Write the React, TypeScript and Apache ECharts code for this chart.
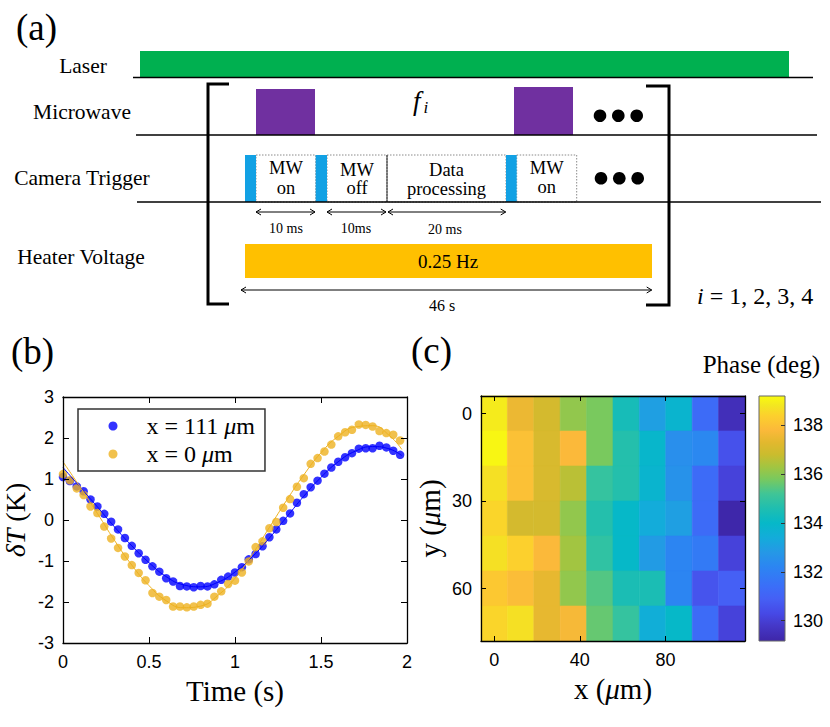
import React, { useEffect, useRef } from 'react';
import * as echarts from 'echarts';

// ---------- Panel (b) data ----------
const TIME_S = [0, 0.04, 0.08, 0.12, 0.16, 0.2, 0.24, 0.28, 0.32, 0.36, 0.4, 0.44, 0.48, 0.52, 0.56, 0.6, 0.64, 0.68, 0.72, 0.76, 0.8, 0.84, 0.88, 0.92, 0.96, 1, 1.04, 1.08, 1.12, 1.16, 1.2, 1.24, 1.28, 1.32, 1.36, 1.4, 1.44, 1.48, 1.52, 1.56, 1.6, 1.64, 1.68, 1.72, 1.76, 1.8, 1.84, 1.88, 1.92, 1.96];
const DT_X111 = [1.05, 0.95, 0.82, 0.7, 0.5, 0.33, 0.15, -0.04, -0.23, -0.44, -0.63, -0.81, -0.97, -1.13, -1.26, -1.42, -1.5, -1.61, -1.62, -1.64, -1.61, -1.62, -1.57, -1.46, -1.38, -1.28, -1.15, -0.96, -0.83, -0.64, -0.42, -0.23, -0.02, 0.16, 0.42, 0.63, 0.8, 0.96, 1.13, 1.28, 1.42, 1.53, 1.63, 1.74, 1.75, 1.75, 1.81, 1.77, 1.69, 1.59];
const DT_X0 = [1.12, 0.97, 0.77, 0.61, 0.33, 0.17, -0.16, -0.45, -0.68, -0.89, -1.1, -1.29, -1.47, -1.78, -1.87, -1.95, -2.11, -2.11, -2.13, -2.11, -2.07, -2.04, -1.87, -1.74, -1.56, -1.48, -1.28, -1.01, -0.66, -0.52, -0.2, -0.05, 0.3, 0.51, 0.81, 1.02, 1.37, 1.51, 1.67, 1.84, 2.04, 2.14, 2.2, 2.33, 2.32, 2.28, 2.17, 2.12, 2.08, 1.94];
const FIT_TIME_S = [0, 0.1, 0.2, 0.3, 0.4, 0.5, 0.6, 0.7, 0.8, 0.9, 1.0, 1.1, 1.2, 1.3, 1.4, 1.5, 1.6, 1.7, 1.8, 1.9, 1.97];
const FIT_X111 = [1.28, 0.8, 0.32, -0.17, -0.63, -1.04, -1.38, -1.58, -1.63, -1.52, -1.27, -0.9, -0.44, 0.07, 0.58, 1.04, 1.42, 1.68, 1.79, 1.73, 1.57];
const FIT_X0 = [1.42, 0.8, 0.16, -0.5, -1.1, -1.6, -1.97, -2.14, -2.1, -1.84, -1.42, -0.84, -0.18, 0.48, 1.1, 1.64, 2.04, 2.27, 2.3, 2.05, 1.72];
const SERIES_NAMES = ['x = 111 μm', 'x = 0 μm'];

// ---------- Panel (c) data ----------
const X_UM = [0, 12.33, 24.67, 37, 49.33, 61.67, 74, 86.33, 98.67, 111];
const Y_UM = [0, 12, 24, 36, 48, 60, 72];
const PHASE_DEG = [
  [138.9, 137.5, 137.0, 136.1, 135.8, 134.4, 133.0, 133.8, 131.3, 129.5],
  [139.1, 138.0, 137.1, 137.8, 135.8, 134.7, 133.9, 132.5, 132.3, 130.5],
  [138.7, 138.0, 137.1, 136.6, 135.0, 134.7, 133.8, 132.6, 131.3, 130.1],
  [138.5, 137.0, 137.0, 136.1, 134.7, 134.0, 133.4, 133.0, 131.3, 129.2],
  [138.7, 138.4, 137.8, 136.3, 134.9, 134.0, 132.9, 132.2, 131.8, 130.1],
  [138.2, 137.9, 137.4, 136.1, 135.4, 134.5, 134.5, 132.2, 130.6, 130.9],
  [138.5, 138.7, 137.4, 137.7, 135.6, 135.0, 133.5, 134.0, 131.3, 130.1],
];
const X_TICKS_UM = [0, 40, 80];
const Y_TICKS_UM = [0, 30, 60];
const PHASE_TICKS = [130, 132, 134, 136, 138];
const PHASE_MIN = 129.17;
const PHASE_MAX = 139.2;
const PARULA_VALUES = [129.17, 129.8, 130.3, 130.9, 131.4, 132.2, 132.8, 133.4, 134.0, 134.6, 135.2, 135.8, 136.3, 136.8, 137.3, 137.8, 138.4, 138.8, 139.2];
const PARULA_COLORS = ['#3e26a8', '#4538c8', '#4649e6', '#4560f5', '#3b6ef8', '#2c85f2', '#2598e6', '#13acda', '#06b8c8', '#1fbeb0', '#40c596', '#79c95e', '#a2c541', '#cabc2e', '#e2b82e', '#fbb93a', '#fcd02d', '#f3e621', '#f9fb0e'];

const SERIF = '"Liberation Serif", "Times New Roman", serif';
const SANS = '"Liberation Sans", Arial, sans-serif';

function hexToRgb(h: string) {
  const n = parseInt(h.slice(1), 16);
  return [(n >> 16) & 255, (n >> 8) & 255, n & 255];
}
function colorAt(v: number) {
  const vs = PARULA_VALUES;
  if (v <= vs[0]) return PARULA_COLORS[0];
  if (v >= vs[vs.length - 1]) return PARULA_COLORS[vs.length - 1];
  for (let k = 0; k < vs.length - 1; k++) {
    if (v <= vs[k + 1]) {
      const t = (v - vs[k]) / (vs[k + 1] - vs[k]);
      const a = hexToRgb(PARULA_COLORS[k]);
      const b = hexToRgb(PARULA_COLORS[k + 1]);
      const c = a.map((x, i) => Math.round(x + (b[i] - x) * t));
      return `rgb(${c[0]},${c[1]},${c[2]})`;
    }
  }
  return PARULA_COLORS[vs.length - 1];
}

function txt(text: string, x: number, y: number, size: number, align = 'center', extra: any = {}) {
  return {
    type: 'text', x, y,
    style: { text, fontSize: size, fontFamily: SERIF, fill: '#000', align, verticalAlign: 'middle', ...extra },
  };
}
function hline(x1: number, x2: number, y: number, w = 1.5) {
  return { type: 'line', shape: { x1, y1: y, x2, y2: y }, style: { stroke: '#000', lineWidth: w } };
}
function dArrow(x1: number, x2: number, y: number) {
  const s = { stroke: '#000', lineWidth: 1, fill: 'none' };
  return [
    { type: 'line', shape: { x1, y1: y, x2, y2: y }, style: s },
    { type: 'polyline', shape: { points: [[x1 + 5, y - 3], [x1, y], [x1 + 5, y + 3]] }, style: s },
    { type: 'polyline', shape: { points: [[x2 - 5, y - 3], [x2, y], [x2 - 5, y + 3]] }, style: s },
  ];
}
function box(x: number, y: number, w: number, h: number) {
  return { type: 'rect', shape: { x, y, width: w, height: h }, style: { fill: 'none', stroke: '#8a8a8a', lineWidth: 1, lineDash: [1.5, 1.5] } };
}
function fillRect(x: number, y: number, w: number, h: number, fill: string) {
  return { type: 'rect', shape: { x, y, width: w, height: h }, style: { fill } };
}

function diagram() {
  const els: any[] = [];
  els.push(txt('(a)', 16, 27, 37, 'left'));
  els.push(txt('(b)', 11, 351.5, 37, 'left'));
  els.push(txt('(c)', 411, 350, 37, 'left'));
  els.push(txt('Phase (deg)', 820, 364, 25, 'right'));
  // row labels
  els.push(txt('Laser', 83, 65.5, 21.5));
  els.push(txt('Microwave', 82, 111.5, 21.5));
  els.push(txt('Camera Trigger', 82, 177.5, 21.5));
  els.push(txt('Heater Voltage', 81, 257, 21.5));
  // laser
  els.push(fillRect(140, 51, 649, 26, '#00b050'));
  els.push(hline(133, 813, 77.5));
  // microwave
  els.push(fillRect(256, 89, 59, 46, '#7030a0'));
  els.push(fillRect(514, 87, 59, 48, '#7030a0'));
  els.push(hline(136, 817, 135));
  els.push({ type: 'text', x: 413, y: 101, style: { text: 'f', fontSize: 27, fontStyle: 'italic', fontFamily: SERIF, fill: '#000', verticalAlign: 'middle' } });
  els.push({ type: 'text', x: 423.5, y: 107, style: { text: 'i', fontSize: 17, fontStyle: 'italic', fontFamily: SERIF, fill: '#000', verticalAlign: 'middle' } });
  [600, 618.3, 636.7].forEach((cx) => els.push({ type: 'circle', shape: { cx, cy: 115.7, r: 6.3 }, style: { fill: '#000' } }));
  // camera trigger
  els.push(box(256, 155, 59.7, 47));
  els.push(box(327, 155, 60, 47));
  els.push(box(387, 155, 119, 47));
  els.push(box(516.7, 155, 60, 47));
  els.push({ type: 'line', shape: { x1: 387, y1: 155, x2: 387, y2: 202 }, style: { stroke: '#333', lineWidth: 1 } });
  els.push(fillRect(245, 155, 11, 47, '#12a1e4'));
  els.push(fillRect(315.7, 155, 11.3, 47, '#12a1e4'));
  els.push(fillRect(506, 155, 10.7, 47, '#12a1e4'));
  els.push(hline(137, 821, 202));
  els.push(txt('MW', 286, 168.3, 18.5));
  els.push(txt('on', 286, 188, 18.5));
  els.push(txt('MW', 357, 169.5, 18.5));
  els.push(txt('off', 357, 188, 18.5));
  els.push(txt('Data', 446.5, 170.3, 18.5));
  els.push(txt('processing', 446.5, 188.6, 18.5));
  els.push(txt('MW', 546.7, 168, 18.5));
  els.push(txt('on', 546.7, 187, 18.5));
  [601, 619.3, 637.7].forEach((cx) => els.push({ type: 'circle', shape: { cx, cy: 178.3, r: 6.3 }, style: { fill: '#000' } }));
  // timing arrows
  els.push(...dArrow(256, 315, 212));
  els.push(...dArrow(327, 386, 212));
  els.push(...dArrow(388, 505.7, 212));
  els.push(txt('10 ms', 286, 228.7, 14));
  els.push(txt('10ms', 356, 228.7, 14));
  els.push(txt('20 ms', 445, 229, 14));
  // heater voltage
  els.push(fillRect(245, 244, 407, 34, '#ffc000'));
  els.push(txt('0.25 Hz', 448, 261, 19));
  els.push(...dArrow(241, 651.7, 290));
  els.push(txt('46 s', 442, 305, 16));
  // brackets
  els.push({ type: 'polyline', shape: { points: [[229, 84], [208, 84], [208, 304], [229, 304]] }, style: { stroke: '#000', lineWidth: 3, fill: 'none' } });
  els.push({ type: 'polyline', shape: { points: [[646, 86], [669, 86], [669, 305], [646, 305]] }, style: { stroke: '#000', lineWidth: 3, fill: 'none' } });
  els.push({
    type: 'text', x: 697, y: 296,
    style: {
      text: '{i|i} = 1, 2, 3, 4', fontSize: 24, fontFamily: SERIF, fill: '#000', verticalAlign: 'middle',
      rich: { i: { fontSize: 24, fontStyle: 'italic', fontFamily: SERIF, fill: '#000' } },
    },
  });
  return els;
}

const axisLine = { show: true, onZero: false, lineStyle: { color: '#000', width: 1.3 } };
const tickLbl = { fontSize: 18, fontFamily: SANS, color: '#000' };

export default function App() {
  const ref = useRef<HTMLDivElement>(null);
  useEffect(() => {
    document.body.style.margin = '0';
    if (!ref.current) return;
    const chart = echarts.init(ref.current, undefined, { renderer: 'svg' });

    const DX = (X_UM[X_UM.length - 1] - X_UM[0]) / (X_UM.length - 1);
    const DY = (Y_UM[Y_UM.length - 1] - Y_UM[0]) / (Y_UM.length - 1);
    const cells: number[][] = [];
    PHASE_DEG.forEach((row, j) => row.forEach((v, i) => cells.push([X_UM[i], Y_UM[j], v])));

    const option: any = {
      animation: false,
      backgroundColor: '#fff',
      graphic: { elements: diagram() },
      grid: [
        { left: 63, top: 397, width: 344, height: 246 },
        { left: 481, top: 396, width: 264, height: 245 },
        { left: 759, top: 396, width: 26, height: 245 },
      ],
      legend: {
        data: SERIES_NAMES,
        orient: 'vertical',
        left: 78, top: 409,
        icon: 'circle',
        itemWidth: 9, itemHeight: 9, itemGap: 4,
        padding: [5, 10, 5, 30.5],
        borderColor: '#333', borderWidth: 1.5,
        backgroundColor: '#fff',
        formatter: (n: string) => '{sp|}' + n.replace('μ', '{i|μ}'),
        textStyle: {
          fontSize: 24, fontFamily: SERIF, color: '#000',
          rich: {
            sp: { width: 24 },
            i: { fontSize: 24, fontFamily: SERIF, fontStyle: 'italic', color: '#000' },
          },
        },
      },
      xAxis: [
        {
          type: 'value', gridIndex: 0, min: 0, max: 2, interval: 0.5, position: 'bottom', z: 10,
          axisLine, axisTick: { inside: true, length: 6, lineStyle: { color: '#000' } },
          axisLabel: { ...tickLbl, margin: 10 }, splitLine: { show: false },
          name: 'Time (s)', nameLocation: 'middle', nameGap: 33,
          nameTextStyle: { fontSize: 29, fontFamily: SERIF, color: '#000' },
        },
        {
          type: 'value', gridIndex: 0, min: 0, max: 2, interval: 0.5, position: 'top', z: 10,
          axisLine, axisTick: { inside: true, length: 6, lineStyle: { color: '#000' } },
          axisLabel: { show: false }, splitLine: { show: false },
        },
        {
          type: 'value', gridIndex: 1, min: X_UM[0] - DX / 2, max: X_UM[X_UM.length - 1] + DX / 2, position: 'bottom', z: 10,
          axisLine, axisTick: { inside: true, length: 5, customValues: X_TICKS_UM, lineStyle: { color: '#000' } },
          axisLabel: { ...tickLbl, margin: 10, customValues: X_TICKS_UM }, splitLine: { show: false },
          name: 'x ({i|μ}m)', nameLocation: 'middle', nameGap: 33,
          nameTextStyle: { fontSize: 29, fontFamily: SERIF, color: '#000', rich: { i: { fontSize: 29, fontFamily: SERIF, fontStyle: 'italic' } } },
        },
        {
          type: 'value', gridIndex: 1, min: X_UM[0] - DX / 2, max: X_UM[X_UM.length - 1] + DX / 2, position: 'top', z: 10,
          axisLine, axisTick: { inside: true, length: 5, customValues: X_TICKS_UM, lineStyle: { color: '#000' } },
          axisLabel: { show: false }, splitLine: { show: false },
        },
        { type: 'value', gridIndex: 2, min: 0, max: 1, show: false },
      ],
      yAxis: [
        {
          type: 'value', gridIndex: 0, min: -3, max: 3, interval: 1, position: 'left', z: 10,
          axisLine, axisTick: { inside: true, length: 6, lineStyle: { color: '#000' } },
          axisLabel: { ...tickLbl, margin: 9 }, splitLine: { show: false },
          name: '{i|δT} (K)', nameLocation: 'middle', nameGap: 34, nameRotate: 90,
          nameTextStyle: { fontSize: 28, fontFamily: SERIF, color: '#000', rich: { i: { fontSize: 28, fontFamily: SERIF, fontStyle: 'italic' } } },
        },
        {
          type: 'value', gridIndex: 0, min: -3, max: 3, interval: 1, position: 'right', z: 10,
          axisLine, axisTick: { inside: true, length: 6, lineStyle: { color: '#000' } },
          axisLabel: { show: false }, splitLine: { show: false },
        },
        {
          type: 'value', gridIndex: 1, min: Y_UM[0] - DY / 2, max: Y_UM[Y_UM.length - 1] + DY / 2, inverse: true, position: 'left', z: 10,
          axisLine, axisTick: { inside: true, length: 5, customValues: Y_TICKS_UM, lineStyle: { color: '#000' } },
          axisLabel: { ...tickLbl, margin: 9, customValues: Y_TICKS_UM }, splitLine: { show: false },
          name: 'y ({i|μ}m)', nameLocation: 'middle', nameGap: 37, nameRotate: 90,
          nameTextStyle: { fontSize: 29, fontFamily: SERIF, color: '#000', rich: { i: { fontSize: 29, fontFamily: SERIF, fontStyle: 'italic' } } },
        },
        {
          type: 'value', gridIndex: 1, min: Y_UM[0] - DY / 2, max: Y_UM[Y_UM.length - 1] + DY / 2, inverse: true, position: 'right', z: 10,
          axisLine, axisTick: { inside: true, length: 5, customValues: Y_TICKS_UM, lineStyle: { color: '#000' } },
          axisLabel: { show: false }, splitLine: { show: false },
        },
        {
          type: 'value', gridIndex: 2, min: PHASE_MIN, max: PHASE_MAX, position: 'right', z: 10,
          axisLine: { show: false, onZero: false },
          axisTick: { inside: true, length: 4, customValues: PHASE_TICKS, lineStyle: { color: '#333' } },
          axisLabel: { ...tickLbl, margin: 8, customValues: PHASE_TICKS }, splitLine: { show: false },
        },
      ],
      series: [
        {
          name: SERIES_NAMES[0], type: 'scatter', xAxisIndex: 0, yAxisIndex: 0,
          data: TIME_S.map((t, i) => [t, DT_X111[i]]), symbol: 'circle', symbolSize: 8.5,
          itemStyle: { color: '#0000ff' }, clip: false,
        },
        {
          name: SERIES_NAMES[1], type: 'scatter', xAxisIndex: 0, yAxisIndex: 0,
          data: TIME_S.map((t, i) => [t, DT_X0[i]]), symbol: 'circle', symbolSize: 8.5,
          itemStyle: { color: '#edb120' }, clip: false,
        },
        {
          name: 'fit111', type: 'line', xAxisIndex: 0, yAxisIndex: 0, smooth: true, showSymbol: false, symbol: 'none',
          data: FIT_TIME_S.map((t, i) => [t, FIT_X111[i]]), lineStyle: { color: '#0000ff', width: 1 }, z: 3,
        },
        {
          name: 'fit0', type: 'line', xAxisIndex: 0, yAxisIndex: 0, smooth: true, showSymbol: false, symbol: 'none',
          data: FIT_TIME_S.map((t, i) => [t, FIT_X0[i]]), lineStyle: { color: '#edb120', width: 1 }, z: 3,
        },
        {
          type: 'custom', xAxisIndex: 2, yAxisIndex: 2, data: cells, encode: { x: 0, y: 1 },
          renderItem: (params: any, api: any) => {
            const x = api.value(0), y = api.value(1), v = api.value(2);
            const p0 = api.coord([x - DX / 2, y - DY / 2]);
            const p1 = api.coord([x + DX / 2, y + DY / 2]);
            const c = colorAt(v);
            return {
              type: 'rect',
              shape: { x: Math.min(p0[0], p1[0]), y: Math.min(p0[1], p1[1]), width: Math.abs(p1[0] - p0[0]), height: Math.abs(p1[1] - p0[1]) },
              style: { fill: c, stroke: c, lineWidth: 0.6 },
            };
          },
        },
        {
          type: 'custom', xAxisIndex: 4, yAxisIndex: 4, data: [[0.5, PHASE_MIN, PHASE_MAX]], encode: { x: 0, y: 1 },
          renderItem: (params: any, api: any) => {
            const cs = params.coordSys;
            const pTop = api.coord([0.5, PHASE_MAX]);
            const pBot = api.coord([0.5, PHASE_MIN]);
            const stops = PARULA_VALUES.map((v, k) => ({ offset: (v - PHASE_MIN) / (PHASE_MAX - PHASE_MIN), color: PARULA_COLORS[k] }));
            return {
              type: 'rect',
              shape: { x: cs.x, y: pTop[1], width: cs.width, height: pBot[1] - pTop[1] },
              style: { fill: new echarts.graphic.LinearGradient(0, 1, 0, 0, stops), stroke: '#666', lineWidth: 1 },
            };
          },
        },
      ],
    };
    chart.setOption(option);
    return () => chart.dispose();
  }, []);
  return <div ref={ref} style={{ width: 830, height: 727 }} />;
}
